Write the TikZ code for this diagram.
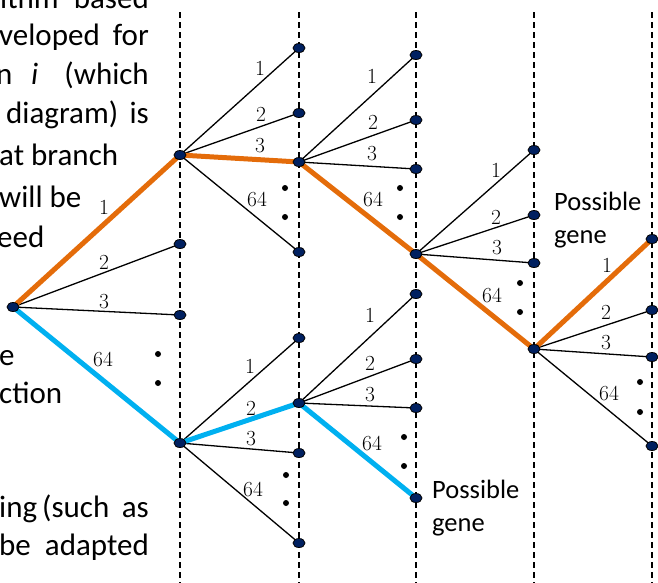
\documentclass[tikz,border=0pt]{standalone}
\usepackage{fontspec}
\newfontfamily\carl{Carlito}
\usetikzlibrary{shapes.geometric}
\pgfdeclarelayer{bg}
\pgfdeclarelayer{bgg}
\pgfsetlayers{bgg,bg,main}
\definecolor{orng}{HTML}{E46C0A}
\definecolor{sky}{HTML}{00B0F0}
\definecolor{navy}{HTML}{002060}
\tikzset{
  vtx/.style={ellipse, draw=black, line width=0.8pt, fill=navy, minimum width=12pt, minimum height=9pt, inner sep=0pt},
  br/.style={draw=black, line width=1.3pt},
  hio/.style={draw=orng, line width=5pt},
  hib/.style={draw=sky, line width=5pt},
  lbl/.style={inner sep=0pt, font=\fontsize{21.5}{25}\selectfont},
  txt/.style={inner sep=0pt, anchor=base west, font=\carl\fontsize{31}{38}\selectfont},
  txte/.style={txt, anchor=base east},
  gene/.style={inner sep=0pt, anchor=base west, font=\carl\fontsize{26.5}{32}\selectfont},
  guide/.style={dash pattern=on 6pt off 4pt, line width=1.4pt},
  dotm/.style={circle, fill=black, inner sep=0pt, minimum size=6pt}
}
\begin{document}
\begin{tikzpicture}[x=1pt,y=-1pt]
\useasboundingbox (0,0) rectangle (658,582);
\clip (0,0) rectangle (658,582);
% guide lines
\begin{pgfonlayer}{bgg}
\foreach \gx in {180,299,416,534,652}
  \draw[guide] (\gx,12) -- (\gx,590);
\end{pgfonlayer}
% vertices
\node[vtx] (R) at (13,307) {};
\node[vtx] (A1) at (180,155) {};
\node[vtx] (A2) at (180,244) {};
\node[vtx] (A3) at (180,315) {};
\node[vtx] (A4) at (180,443) {};
\node[vtx] (B11) at (299,48) {};
\node[vtx] (B12) at (299,113) {};
\node[vtx] (B13) at (299,162) {};
\node[vtx] (B14) at (299,252) {};
\node[vtx] (B41) at (299,338) {};
\node[vtx] (B42) at (299,403) {};
\node[vtx] (B43) at (299,453) {};
\node[vtx] (B44) at (299,543) {};
\node[vtx] (C1) at (416,55) {};
\node[vtx] (C2) at (416,120) {};
\node[vtx] (C3) at (416,169) {};
\node[vtx] (C4) at (416,254) {};
\node[vtx] (C5) at (416,294) {};
\node[vtx] (C6) at (416,359) {};
\node[vtx] (C7) at (416,408) {};
\node[vtx] (C8) at (416,498) {};
\node[vtx] (D1) at (534,150) {};
\node[vtx] (D2) at (534,215) {};
\node[vtx] (D3) at (534,263) {};
\node[vtx] (D4) at (534,349) {};
\node[vtx] (E1) at (652,239) {};
\node[vtx] (E2) at (652,310) {};
\node[vtx] (E3) at (652,357) {};
\node[vtx] (E4) at (652,446) {};
% edges
\begin{pgfonlayer}{bg}
\draw[br] (R.center) -- (A2.center);
\draw[br] (R.center) -- (A3.center);
\draw[br] (A1.center) -- (B11.center);
\draw[br] (A1.center) -- (B12.center);
\draw[br] (A1.center) -- (B14.center);
\draw[br] (B13.center) -- (C1.center);
\draw[br] (B13.center) -- (C2.center);
\draw[br] (B13.center) -- (C3.center);
\draw[br] (C4.center) -- (D1.center);
\draw[br] (C4.center) -- (D2.center);
\draw[br] (C4.center) -- (D3.center);
\draw[br] (D4.center) -- (E2.center);
\draw[br] (D4.center) -- (E3.center);
\draw[br] (D4.center) -- (E4.center);
\draw[br] (A4.center) -- (B41.center);
\draw[br] (A4.center) -- (B43.center);
\draw[br] (A4.center) -- (B44.center);
\draw[br] (B42.center) -- (C5.center);
\draw[br] (B42.center) -- (C6.center);
\draw[br] (B42.center) -- (C7.center);
\draw[hio] (R.center) -- (A1.center) -- (B13.center) -- (C4.center) -- (D4.center) -- (E1.center);
\draw[hib] (R.center) -- (A4.center) -- (B42.center) -- (C8.center);
\end{pgfonlayer}
% branch labels
\node[lbl] (lR1) at (104,207) {1};
\node[lbl] (lR2) at (104,262) {2};
\node[lbl] (lR3) at (104,302) {3};
\node[lbl] (lR4) at (103,359) {64};
\node[lbl] (lA1) at (260,68) {1};
\node[lbl] (lA2) at (261,114) {2};
\node[lbl] (lA3) at (260,146) {3};
\node[lbl] (lA4) at (257,199) {64};
\node[lbl] (lB1) at (372,76) {1};
\node[lbl] (lB2) at (373,122) {2};
\node[lbl] (lB3) at (372,154) {3};
\node[lbl] (lB4) at (373,199) {64};
\node[lbl] (lF1) at (250,366) {1};
\node[lbl] (lF2) at (251,408) {2};
\node[lbl] (lF3) at (251,439) {3};
\node[lbl] (lF4) at (253,489) {64};
\node[lbl] (lG1) at (370,315) {1};
\node[lbl] (lG2) at (370,363) {2};
\node[lbl] (lG3) at (370,395) {3};
\node[lbl] (lG4) at (372,443) {64};
\node[lbl] (lC1) at (496,170) {1};
\node[lbl] (lC2) at (496,217) {2};
\node[lbl] (lC3) at (497,248) {3};
\node[lbl] (lC4) at (492,295) {64};
\node[lbl] (lD1) at (607,265) {1};
\node[lbl] (lD2) at (606,312) {2};
\node[lbl] (lD3) at (606,343) {3};
\node[lbl] (lD4) at (609,393) {64};
% ellipsis dots
\node[dotm] (dR1) at (158,354) {};
\node[dotm] (dR2) at (158,383) {};
\node[dotm] (dA1) at (285,188) {};
\node[dotm] (dA2) at (285,217) {};
\node[dotm] (dB1) at (400,188) {};
\node[dotm] (dB2) at (400,217) {};
\node[dotm] (dF1) at (286,475) {};
\node[dotm] (dF2) at (286,503) {};
\node[dotm] (dG1) at (404,437) {};
\node[dotm] (dG2) at (404,466) {};
\node[dotm] (dC1) at (520,283) {};
\node[dotm] (dC2) at (520,312) {};
\node[dotm] (dD1) at (640,382) {};
\node[dotm] (dD2) at (640,412) {};
% possible gene labels
\node[gene] (pg1a) at (554,210) {Possible};
\node[gene] (pg1b) at (554,243) {gene};
\node[gene] (pg2a) at (432,498) {Possible};
\node[gene] (pg2b) at (432,531) {gene};
% surrounding text fragments
\node[txt] (t1a) at (0,8) {ithm};
\node[txte] (t1b) at (149,8) {based};
\node[txt] (t2a) at (-1,45) {veloped};
\node[txte] (t2b) at (149,45) {for};
\node[txt] (t3a) at (-4,84) {n};
\node[txt] (t3b) at (31,84) {\itshape i};
\node[txte] (t3c) at (149,84) {(which};
\node[txt] (t4a) at (6,123) {diagram)};
\node[txte] (t4b) at (149,123) {is};
\node[txt] (t5) at (-1,165) {at branch};
\node[txt] (t6) at (-1,207) {will be};
\node[txt] (t7) at (-3,247) {eed};
\node[txt] (t8) at (-1,365) {e};
\node[txt] (t9) at (-1,403) {ction};
\node[txt] (t10a) at (-1,517) {ing};
\node[txt] (t10b) at (42,517) {(such};
\node[txte] (t10c) at (149,517) {as};
\node[txt] (t11a) at (-1,555) {be};
\node[txte] (t11b) at (149,555) {adapted};
\end{tikzpicture}
\end{document}
